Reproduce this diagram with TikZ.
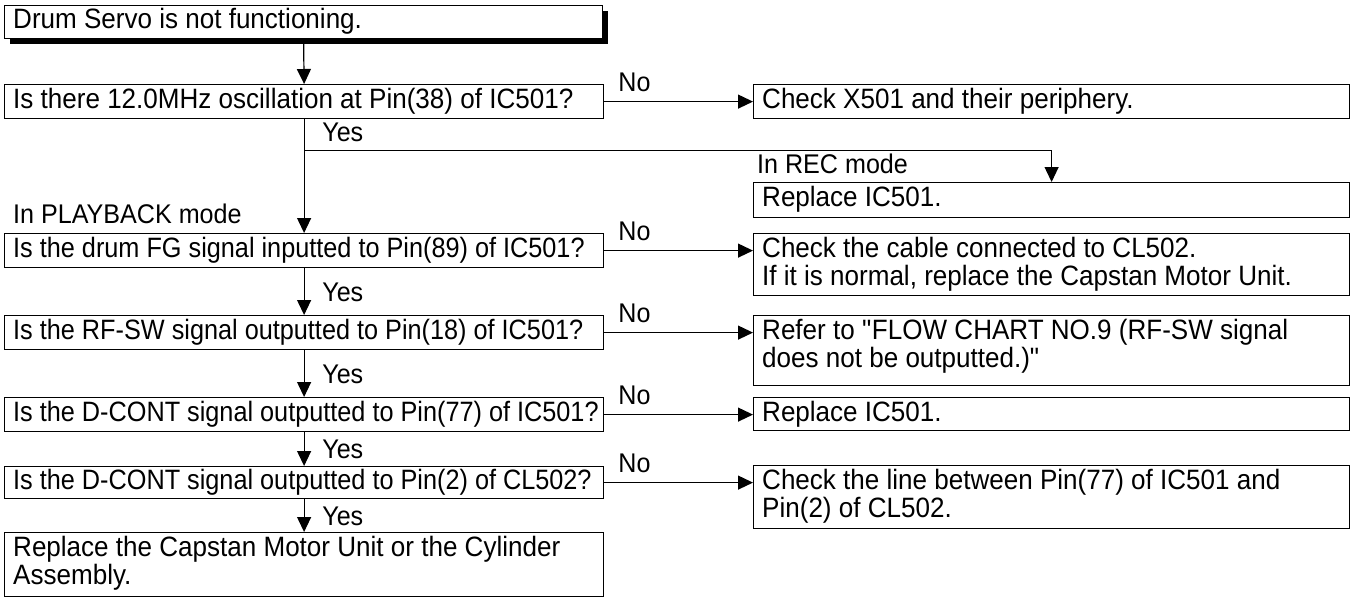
\documentclass[tikz,border=0pt]{standalone}
\usepackage{graphicx}
\usepackage{fontspec}
\setmainfont[FakeStretch=0.93]{Liberation Sans}
\usetikzlibrary{arrows.meta,shadows,calc}
\newcommand{\narrow}[1]{\scalebox{0.97}[1]{#1}}
\begin{document}
\begin{tikzpicture}[x=1pt,y=-1pt,
  box/.style={draw,line width=1.2pt,rectangle,inner sep=0pt,anchor=north west,fill=white},
  txt/.style={inner sep=0pt,anchor=north west,align=left,font=\fontsize{28}{28.5}\selectfont},
  lbl/.style={inner sep=0pt,anchor=base west,font=\fontsize{27}{28}\selectfont},
  conn/.style={line width=1.2pt,-{Triangle[length=15pt,width=14pt]}}]
\useasboundingbox (0,0) rectangle (1353,598);
% boxes
\node[box,minimum width=598pt,minimum height=33pt,
  drop shadow={shadow xshift=5pt,shadow yshift=-5pt,fill=black,opacity=1}] (start) at (4,5) {};
\node[box,minimum width=599pt,minimum height=34pt] (q1) at (4,84) {};
\node[box,minimum width=596pt,minimum height=34pt] (r1) at (753,84) {};
\node[box,minimum width=596pt,minimum height=35pt] (r2) at (753,182) {};
\node[box,minimum width=599pt,minimum height=34pt] (q2) at (4,233) {};
\node[box,minimum width=596pt,minimum height=62pt] (r3) at (753,233) {};
\node[box,minimum width=599pt,minimum height=34pt] (q3) at (4,315) {};
\node[box,minimum width=596pt,minimum height=70pt] (r4) at (753,315) {};
\node[box,minimum width=599pt,minimum height=34pt] (q4) at (4,397) {};
\node[box,minimum width=596pt,minimum height=33pt] (r5) at (753,397) {};
\node[box,minimum width=599pt,minimum height=32pt] (q5) at (4,466) {};
\node[box,minimum width=596pt,minimum height=63pt] (r6) at (753,465) {};
\node[box,minimum width=599pt,minimum height=64pt] (end) at (4,532) {};
% texts
\node[txt] (tstart) at ($(start.north west)+(9,3.5)$) {Drum Servo is not functioning.};
\node[txt] (tq1) at ($(q1.north west)+(9,4)$) {Is there 12.0MHz oscillation at Pin(38) of IC501?};
\node[txt] (tr1) at ($(r1.north west)+(9,4)$) {Check X501 and their periphery.};
\node[txt] (tr2) at ($(r2.north west)+(9,4)$) {Replace IC501.};
\node[txt] (tq2) at ($(q2.north west)+(9,4)$) {\narrow{Is the drum FG signal inputted to Pin(89) of IC501?}};
\node[txt] (tr3) at ($(r3.north west)+(9,4)$) {Check the cable connected to CL502.\\If it is normal, replace the Capstan Motor Unit.};
\node[txt] (tq3) at ($(q3.north west)+(9,4)$) {\narrow{Is the RF-SW signal outputted to Pin(18) of IC501?}};
\node[txt] (tr4) at ($(r4.north west)+(9,4)$) {Refer to \textquotedbl FLOW CHART NO.9 (RF-SW signal\\does not be outputted.)\textquotedbl};
\node[txt] (tq4) at ($(q4.north west)+(9,4)$) {\narrow{Is the D-CONT signal outputted to Pin(77) of IC501?}};
\node[txt] (tr5) at ($(r5.north west)+(9,4)$) {Replace IC501.};
\node[txt] (tq5) at ($(q5.north west)+(9,3.5)$) {\narrow{Is the D-CONT signal outputted to Pin(2) of CL502?}};
\node[txt] (tr6) at ($(r6.north west)+(9,4)$) {Check the line between Pin(77) of IC501 and\\Pin(2) of CL502.};
\node[txt] (tend) at ($(end.north west)+(9,4)$) {Replace the Capstan Motor Unit or the Cylinder\\Assembly.};
% connectors
\coordinate (br) at ($(q1.south)+(0,31)$);
\draw[conn] (start.south) -- (q1.north);
\draw[conn] (q1.south) -- (q2.north);
\draw[conn] (br) -| (r2.north);
\draw[conn] (q2.south) -- (q3.north);
\draw[conn] (q3.south) -- (q4.north);
\draw[conn] (q4.south) -- (q5.north);
\draw[conn] (q5.south) -- (end.north);
\draw[conn] (q1.east) -- (q1.east -| r1.west);
\draw[conn] (q2.east) -- (q2.east -| r3.west);
\draw[conn] (q3.east) -- (q3.east -| r4.west);
\draw[conn] (q4.east) -- (q4.east -| r5.west);
\draw[conn] (q5.east) -- (q5.east -| r6.west);
% labels
\node[lbl] (no1) at ($(q1.east)+(14,-10)$) {No};
\node[lbl] (no2) at ($(q2.east)+(14,-10)$) {No};
\node[lbl] (no3) at ($(q3.east)+(14,-10)$) {No};
\node[lbl] (no4) at ($(q4.east)+(14,-10)$) {No};
\node[lbl] (no5) at ($(q5.east)+(14,-10)$) {No};
\node[lbl] (yes1) at ($(q1.south)+(18,22)$) {Yes};
\node[lbl] (yes2) at ($(q2.south)!0.5!(q3.north)+(18,9.5)$) {Yes};
\node[lbl] (yes3) at ($(q3.south)!0.5!(q4.north)+(18,9.5)$) {Yes};
\node[lbl] (yes4) at ($(q4.south)!0.5!(q5.north)+(18,9.5)$) {Yes};
\node[lbl] (yes5) at ($(q5.south)!0.5!(end.north)+(18,9.5)$) {Yes};
\node[lbl] (rec) at ($(r2.north west)+(4,-9)$) {In REC mode};
\node[lbl] (pb) at ($(q2.north west)+(9,-10)$) {In PLAYBACK mode};
\end{tikzpicture}
\end{document}
